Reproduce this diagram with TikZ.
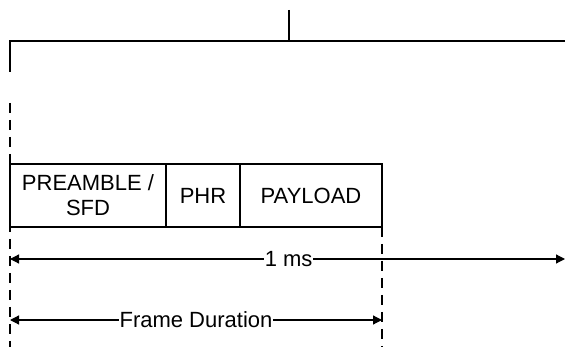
\documentclass[tikz,border=0pt]{standalone}
\usepackage{fontspec}
\setmainfont{Liberation Sans}
\usetikzlibrary{positioning,arrows.meta}

\begin{document}
\begin{tikzpicture}[x=1pt,y=-1pt,line width=1.2pt,
    font=\fontsize{22}{25}\selectfont,
    cell/.style={draw,minimum height=63pt,inner sep=0pt,outer sep=0pt,align=center},
    dashline/.style={dash pattern=on 10pt off 7pt},
    span/.style={{Triangle[length=9pt,width=9pt]}-{Triangle[length=9pt,width=9pt]}},
    lbl/.style={fill=white,inner sep=1pt}]
  \useasboundingbox (0,0) rectangle (565,347);
  % tree at the top
  \coordinate (root) at (289,10);
  \coordinate (fork) at (289,41);
  \coordinate (lft) at (10,41);
  \coordinate (rgt) at (565,41);
  \coordinate (lftend) at (10,72);
  \draw (root) -- (fork);
  \draw (lftend) -- (lft) -- (rgt);
  % frame
  \node[cell,minimum width=156pt,anchor=north west] (pre) at (10,164) {PREAMBLE /\\SFD};
  \node[cell,minimum width=74pt,right=0pt of pre] (phr) {PHR};
  \node[cell,minimum width=142pt,right=0pt of phr] (pay) {PAYLOAD};
  % time marks
  \coordinate (mkA) at (10,103);
  \coordinate (mkAend) at (10,347);
  \coordinate (mkBend) at (pay.south east |- mkAend);
  \draw[dashline] (mkA) -- (mkAend);
  \draw[dashline] (pay.south east) -- (mkBend);
  \coordinate (msL) at (10,259);
  \coordinate (msR) at (565,259);
  \draw[span] (msL) -- (msR) node[lbl,pos=0.502] {1 ms};
  \coordinate (fdL) at (10,320);
  \coordinate (fdR) at (pay.south east |- fdL);
  \draw[span] (fdL) -- (fdR) node[lbl,midway] {Frame Duration};
\end{tikzpicture}
\end{document}
